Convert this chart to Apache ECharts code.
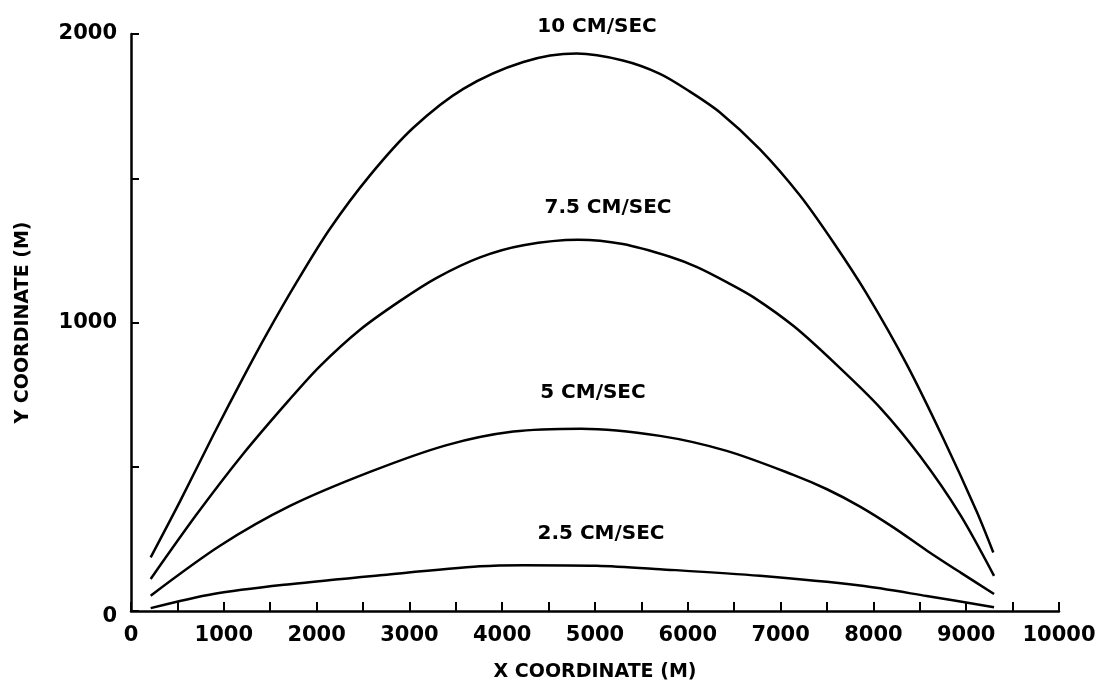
<!DOCTYPE html>
<html>
<head>
<meta charset="utf-8">
<script src="https://cdn.jsdelivr.net/npm/echarts@6/dist/echarts.min.js"></script>
<style>
  html, body { margin: 0; padding: 0; background: #fff; }
  #chart { width: 1113px; height: 687px; }
</style>
</head>
<body>
<div id="chart"></div>
<script>
// Streamline trajectories for four current speeds: [x (m), y (m)]
const speed10 = [
  [212, 186], [528, 380], [887, 610], [1210, 810], [1462, 960], [1785, 1140],
  [2144, 1325], [2575, 1510], [3042, 1675], [3581, 1810], [4228, 1903],
  [4803, 1932], [5300, 1908], [5700, 1862], [6000, 1805], [6347, 1728],
  [6778, 1600], [7209, 1440], [7568, 1278], [7927, 1100], [8359, 855],
  [8753, 598], [9113, 345], [9292, 203]
];
const speed75 = [
  [212, 111], [708, 335], [1210, 545], [1700, 730], [2037, 849], [2468, 975],
  [2900, 1075], [3294, 1155], [3761, 1226], [4228, 1268], [4820, 1287],
  [5300, 1272], [5808, 1228], [6100, 1192], [6419, 1140], [6706, 1088],
  [7150, 985], [7604, 853], [8071, 705], [8502, 537], [8933, 335], [9300, 122]
];
const speed5 = [
  [212, 53], [959, 226], [1713, 364], [2575, 482], [3402, 575], [4120, 622],
  [4850, 632], [5700, 607], [6419, 555], [7137, 472], [7500, 422],
  [7856, 362], [8215, 290], [8574, 210], [8940, 133], [9300, 59]
];
const speed25 = [
  [212, 10], [887, 59], [1713, 93], [2719, 125], [3761, 155], [4228, 159],
  [5018, 157], [5700, 145], [6778, 122], [7856, 88], [8574, 52], [9300, 13]
];

// Curve captions placed in data coordinates: [x, y, text]
const captions = [
  [5022, 2024, '10 CM/SEC'],
  [5140, 1398, '7.5 CM/SEC'],
  [4978, 758, '5 CM/SEC'],
  [5065, 266, '2.5 CM/SEC']
];

const xTickLabels = ['0', '1000', '2000', '3000', '4000', '5000', '6000', '7000', '8000', '9000', '10000'];
const yTickLabels = ['0', '1000', '2000'];

const FONT = '"DejaVu Sans", sans-serif';
const INK = '#000';

function curve(name, data) {
  return {
    name: name,
    type: 'line',
    data: data,
    smooth: 0.3,
    symbol: 'none',
    lineStyle: { color: INK, width: 2.5 },
    z: 3
  };
}

const chart = echarts.init(document.getElementById('chart'));
chart.setOption({
  backgroundColor: '#fff',
  animation: false,
  grid: { left: 131, right: 54, top: 34, bottom: 75 },
  xAxis: {
    type: 'value',
    min: 0, max: 10000, interval: 500,
    name: 'X COORDINATE (M)',
    nameLocation: 'middle',
    nameGap: 52,
    nameTextStyle: { fontFamily: FONT, fontWeight: 'bold', fontSize: 19, color: INK },
    axisLine: { lineStyle: { color: INK, width: 2.5 } },
    axisTick: { inside: true, length: 9, lineStyle: { color: INK, width: 2 } },
    axisLabel: {
      margin: 14,
      fontFamily: FONT, fontWeight: 'bold', fontSize: 21, color: INK,
      formatter: v => (v % 1000 === 0 ? xTickLabels[v / 1000] : '')
    },
    splitLine: { show: false }
  },
  yAxis: {
    type: 'value',
    min: 0, max: 2000, interval: 500,
    name: 'Y COORDINATE (M)',
    nameLocation: 'middle',
    nameGap: 98,
    nameTextStyle: { fontFamily: FONT, fontWeight: 'bold', fontSize: 19, color: INK },
    axisLine: { show: true, lineStyle: { color: INK, width: 2.5 } },
    axisTick: { show: true, inside: true, length: 8, lineStyle: { color: INK, width: 2 } },
    axisLabel: {
      margin: 14,
      fontFamily: FONT, fontWeight: 'bold', fontSize: 21, color: INK,
      formatter: v => {
        if (v % 1000 !== 0) return '';
        const t = yTickLabels[v / 1000];
        return v === 0 ? '{low|' + t + '}' : t;
      },
      rich: {
        low: { fontFamily: FONT, fontWeight: 'bold', fontSize: 21, color: INK, padding: [12, 0, 0, 0] }
      }
    },
    splitLine: { show: false }
  },
  series: [
    curve('10 CM/SEC', speed10),
    curve('7.5 CM/SEC', speed75),
    curve('5 CM/SEC', speed5),
    curve('2.5 CM/SEC', speed25),
    {
      type: 'scatter',
      clip: false,
      symbolSize: 0,
      silent: true,
      itemStyle: { opacity: 1 },
      data: captions.map(c => ({ value: [c[0], c[1]], name: c[2] })),
      label: {
        show: true,
        position: 'inside',
        formatter: p => p.name,
        opacity: 1,
        fontFamily: FONT, fontWeight: 'bold', fontSize: 20, color: INK
      },
      z: 4
    }
  ]
});
</script>
</body>
</html>
